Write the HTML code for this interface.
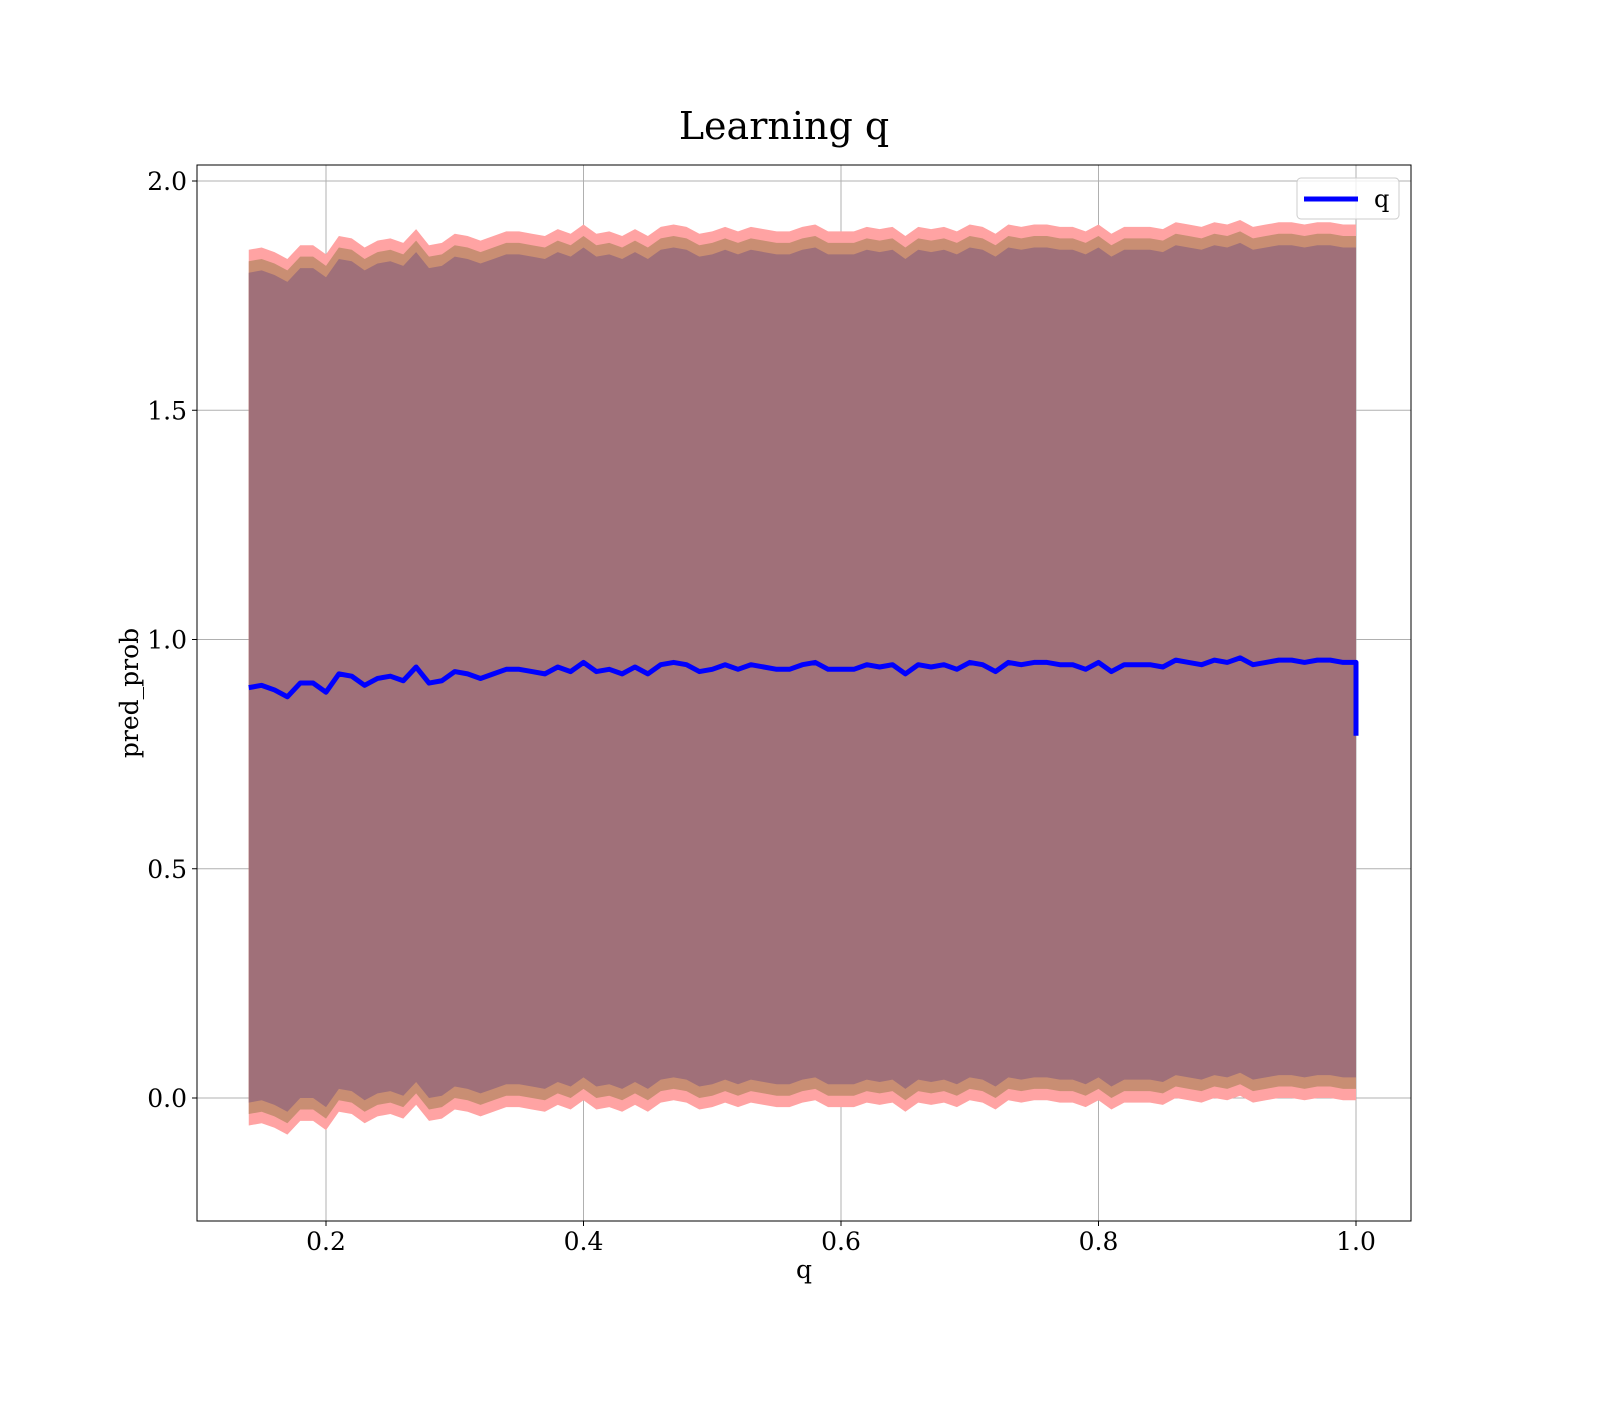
<!DOCTYPE html>
<html><head><meta charset="utf-8">
<style>
html,body{margin:0;padding:0;background:#fff;}
svg text{font-family:"DejaVu Serif","Liberation Serif",serif;fill:#000;}
</style></head>
<body>
<svg id="chart" width="1600" height="1400" viewBox="0 0 1600 1400" xmlns="http://www.w3.org/2000/svg">
<rect width="1600" height="1400" fill="#fff"/>
<text x="784" y="139" font-size="38" text-anchor="middle">Learning q</text>
<g id="grid"></g>
<g id="bands"></g>
<g id="lines"></g>
<rect x="197" y="165" width="1214" height="1056" fill="none" stroke="#000" stroke-width="1"/>
<g id="ticks"></g>
<text x="804" y="1278" font-size="25" text-anchor="middle">q</text>
<text transform="translate(138,693) rotate(-90)" font-size="25" text-anchor="middle">pred_prob</text>
<g>
<rect x="1297" y="178" width="102" height="41" rx="4" fill="#fff" fill-opacity="0.8" stroke="#ccc"/>
<line x1="1304" y1="199" x2="1358" y2="199" stroke="#0000ff" stroke-width="5"/>
<text x="1374" y="207" font-size="24">q</text>
</g>
</svg>
<script>
const qValues = [0.14,0.15,0.16,0.17,0.18,0.19,0.20,0.21,0.22,0.23,0.24,0.25,0.26,0.27,0.28,0.29,0.30,0.31,0.32,0.33,0.34,0.35,0.36,0.37,0.38,0.39,0.40,0.41,0.42,0.43,0.44,0.45,0.46,0.47,0.48,0.49,0.50,0.51,0.52,0.53,0.54,0.55,0.56,0.57,0.58,0.59,0.60,0.61,0.62,0.63,0.64,0.65,0.66,0.67,0.68,0.69,0.70,0.71,0.72,0.73,0.74,0.75,0.76,0.77,0.78,0.79,0.80,0.81,0.82,0.83,0.84,0.85,0.86,0.87,0.88,0.89,0.90,0.91,0.92,0.93,0.94,0.95,0.96,0.97,0.98,0.99,1.00,1.00];
const meanValues = [0.895,0.9,0.89,0.875,0.905,0.905,0.885,0.925,0.92,0.9,0.915,0.92,0.91,0.94,0.905,0.91,0.93,0.925,0.915,0.925,0.935,0.935,0.93,0.925,0.94,0.93,0.95,0.93,0.935,0.925,0.94,0.925,0.945,0.95,0.945,0.93,0.935,0.945,0.935,0.945,0.94,0.935,0.935,0.945,0.95,0.935,0.935,0.935,0.945,0.94,0.945,0.925,0.945,0.94,0.945,0.935,0.95,0.945,0.93,0.95,0.945,0.95,0.95,0.945,0.945,0.935,0.95,0.93,0.945,0.945,0.945,0.94,0.955,0.95,0.945,0.955,0.95,0.96,0.945,0.95,0.955,0.955,0.95,0.955,0.955,0.95,0.95,0.79];
const bandHalfWidths = [0.955,0.93,0.905];
const bandColors = ["#ffa3a3","#c98e73","#a07079"];
const xTicks = [0.2,0.4,0.6,0.8,1.0];
const xTickLabels = ["0.2","0.4","0.6","0.8","1.0"];
const yTicks = [0.0,0.5,1.0,1.5,2.0];
const yTickLabels = ["0.0","0.5","1.0","1.5","2.0"];

const NS="http://www.w3.org/2000/svg";
const X = v => 68.5 + v*1287.5;
const Y = v => 1098 - v*458.5;
function mk(tag, attrs, parent){const e=document.createElementNS(NS,tag);for(const k in attrs)e.setAttribute(k,attrs[k]);parent.appendChild(e);return e;}
const grid=document.getElementById('grid'), ticks=document.getElementById('ticks');
xTicks.forEach((t,i)=>{
  const g=mk('line',{x1:X(t),x2:X(t),y1:165,y2:1221,stroke:'#b0b0b0','stroke-width':1},grid);
  
  
  const tk=mk('line',{x1:X(t),x2:X(t),y1:1221,y2:1226,stroke:'#000'},ticks);
  
  
  const tx=mk('text',{x:X(t),y:1250,'font-size':25,'text-anchor':'middle'},ticks);
  tx.textContent=xTickLabels[i];
  
  
});
yTicks.forEach((t,i)=>{
  const g=mk('line',{x1:197,x2:1411,y1:Y(t),y2:Y(t),stroke:'#b0b0b0','stroke-width':1},grid);
  
  
  const tk=mk('line',{x1:192,x2:197,y1:Y(t),y2:Y(t),stroke:'#000'},ticks);
  
  
  const tx=mk('text',{x:187,y:Y(t)+9,'font-size':25,'text-anchor':'end'},ticks);
  tx.textContent=yTickLabels[i];
  
  
});
const bands=document.getElementById('bands');
bandHalfWidths.forEach((w,b)=>{
  let top=qValues.map((q,i)=>X(q)+','+Y(meanValues[Math.min(i,meanValues.length-2)]+w));
  let bot=qValues.map((q,i)=>X(q)+','+Y(meanValues[Math.min(i,meanValues.length-2)]-w)).reverse();
  const p=mk('polygon',{points:top.concat(bot).join(' '),fill:bandColors[b]},bands);
  
  
});
const pts=qValues.map((q,i)=>X(q)+','+Y(meanValues[i])).join(' ');
const line=mk('polyline',{points:pts,fill:'none',stroke:'#0000ff','stroke-width':5,'stroke-linejoin':'round'},document.getElementById('lines'));


</script>
</body></html>
